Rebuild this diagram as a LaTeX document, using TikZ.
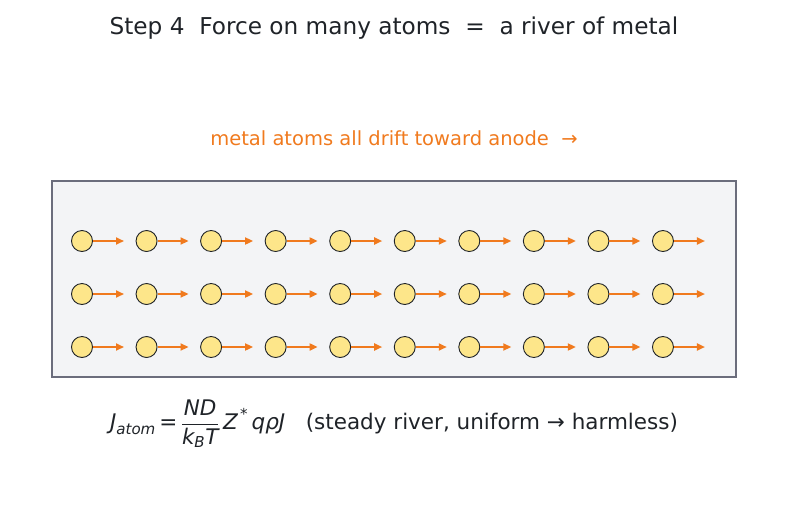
\documentclass[tikz,border=0pt]{standalone}
\usepackage{amsmath}
\usepackage{fontspec}
\setmainfont{DejaVu Sans}
\usepackage{tikz}
\usetikzlibrary{arrows.meta, positioning, calc}

\definecolor{inkdark}{HTML}{1F2328}
\definecolor{driftorange}{HTML}{F07A1E}
\definecolor{wireframe}{HTML}{6B6D7C}
\definecolor{wirefill}{HTML}{F3F4F6}
\definecolor{atomfill}{HTML}{FDE68A}

\newcommand{\itx}[1]{\text{\itshape #1}}

\tikzset{
  titlelabel/.style={
    font=\fontsize{23.2}{27}\selectfont, text=inkdark
  },
  driftlabel/.style={
    font=\fontsize{19.5}{23}\selectfont, text=driftorange
  },
  formulalabel/.style={
    font=\fontsize{21.5}{25}\selectfont, text=inkdark
  },
  wirebox/.style={
    draw=wireframe, line width=2.8pt, fill=wirefill
  },
  atomdot/.style={
    circle, draw=inkdark, line width=0.9pt, fill=atomfill,
    minimum size=21pt, inner sep=0pt
  },
  driftarrow/.style={
    -{Triangle[length=8pt, width=7pt]}, line width=1.8pt, color=driftorange
  },
}

\begin{document}
\begin{tikzpicture}[x=1pt, y=-1pt]
  \useasboundingbox (0, 0) rectangle (787, 512);

  % ── Title ──────────────────────────────────────────────────────
  \node[titlelabel] (title) at (394, 28.5)
    {Step 4\ \ Force on many atoms \ =\ \ a river of metal};

  % ── Drift caption ──────────────────────────────────────────────
  \node[driftlabel] (drift) at (394, 138)
    {metal atoms all drift toward anode\ \ →};

  % ── Wire segment ───────────────────────────────────────────────
  \node[wirebox, minimum width=684pt, minimum height=196pt, inner sep=0pt]
    (wire) at (394, 279) {};

  % ── Atoms with drift arrows ────────────────────────────────────
  \foreach \row/\yy in {1/241, 2/294, 3/347} {
    \foreach \col in {0,...,9} {
      \node[atomdot] (atom-\row-\col) at ({82 + 64.55*\col}, \yy) {};
      \coordinate (tip-\row-\col) at ({82 + 64.55*\col + 42}, \yy);
      \draw[driftarrow] (atom-\row-\col.east) -- (tip-\row-\col);
    }
  }

  % ── Flux formula ───────────────────────────────────────────────
  \node[formulalabel] (flux) at (394, 424)
    {$\itx{J}_{\itx{atom}}\,\text{=}\,\dfrac{\itx{ND}}{\itx{k}_{\itx{B}}\itx{T}}\,
      \itx{Z}^{\,\text{*}}\,\itx{qρJ}$\ \ \ (steady river, uniform → harmless)};
\end{tikzpicture}
\end{document}
